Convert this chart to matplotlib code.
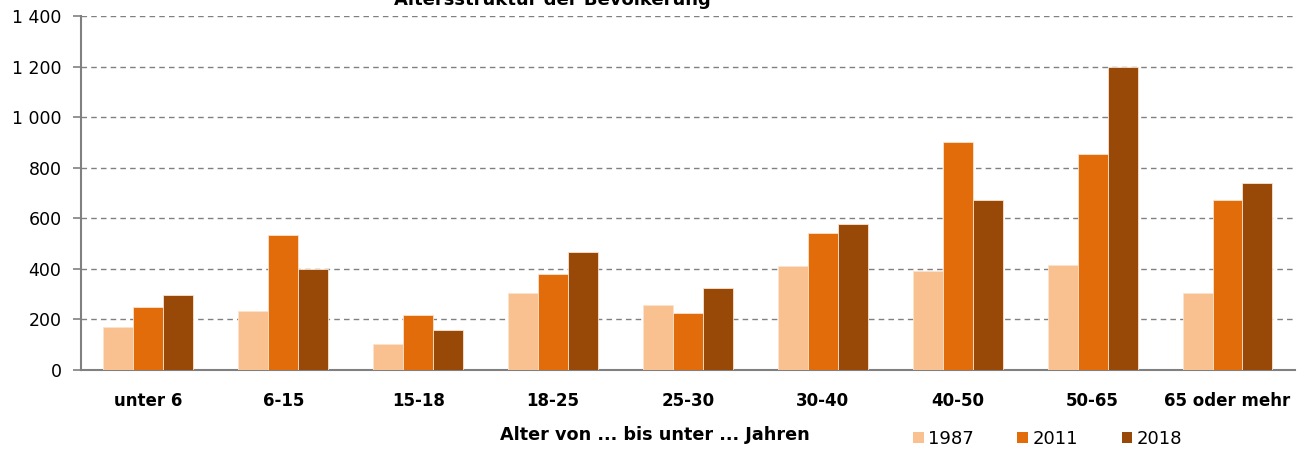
import matplotlib.pyplot as plt
import numpy as np
from matplotlib.ticker import FuncFormatter
from matplotlib.patches import Patch

plt.rcParams['font.family'] = ['DejaVu Sans']

categories = ['unter 6', '6-15', '15-18', '18-25', '25-30', '30-40', '40-50', '50-65', '65 oder mehr']
years = ['1987', '2011', '2018']
v1987 = [170, 233, 103, 304, 257, 411, 391, 416, 304]
v2011 = [249, 534, 217, 380, 225, 542, 902, 854, 671]
v2018 = [297, 400, 158, 467, 324, 577, 672, 1197, 738]
colors = ['#F9C190', '#E36C0A', '#984807']

fig = plt.figure(figsize=(13.08, 4.53), dpi=100)
ax = fig.add_axes([0.0619, 0.1832, 0.9281, 0.7815])

x = np.arange(len(categories))
w = 0.222
for i, (vals, c) in enumerate(zip([v1987, v2011, v2018], colors)):
    ax.bar(x + (i - 1) * w, vals, w, color=c, edgecolor='#FBE3CF', linewidth=0.6, zorder=3)

ax.set_xlim(-0.5, len(categories) - 0.5)
ax.set_ylim(0, 1400)
ax.set_yticks(range(0, 1401, 200))
ax.yaxis.set_major_formatter(FuncFormatter(lambda v, p: f'{int(v):,}'.replace(',', ' ')))
ax.set_xticks(x)
ax.set_xticklabels(categories, fontweight='bold', fontsize=12)
ax.tick_params(axis='x', length=0, pad=16)
ax.tick_params(axis='y', labelsize=12.5, length=6, color='#808080', width=1.2, pad=8)

ax.grid(axis='y', linestyle=(0, (4, 3)), color='#808080', linewidth=1, zorder=0)
for s in ['top', 'right']:
    ax.spines[s].set_visible(False)
for s in ['left', 'bottom']:
    ax.spines[s].set_color('#808080')
    ax.spines[s].set_linewidth(1.5)

# title sits mostly above the canvas, as in the source image
fig.text(0.422, 0.99, 'Altersstruktur der Bevölkerung', ha='center', va='baseline',
         fontsize=13, fontweight='bold')
fig.text(0.5008, 0.039, 'Alter von ... bis unter ... Jahren', ha='center', va='center',
         fontsize=12.7, fontweight='bold')

handles = [Patch(facecolor=c, edgecolor='none') for c in colors]
fig.legend(handles, years, loc='center left', bbox_to_anchor=(0.698, 0.031), ncol=3,
           frameon=False, fontsize=13, handlelength=0.6, handleheight=0.6,
           handletextpad=0.25, columnspacing=2.4, borderaxespad=0, borderpad=0)

fig.savefig('out.png', dpi=100)
